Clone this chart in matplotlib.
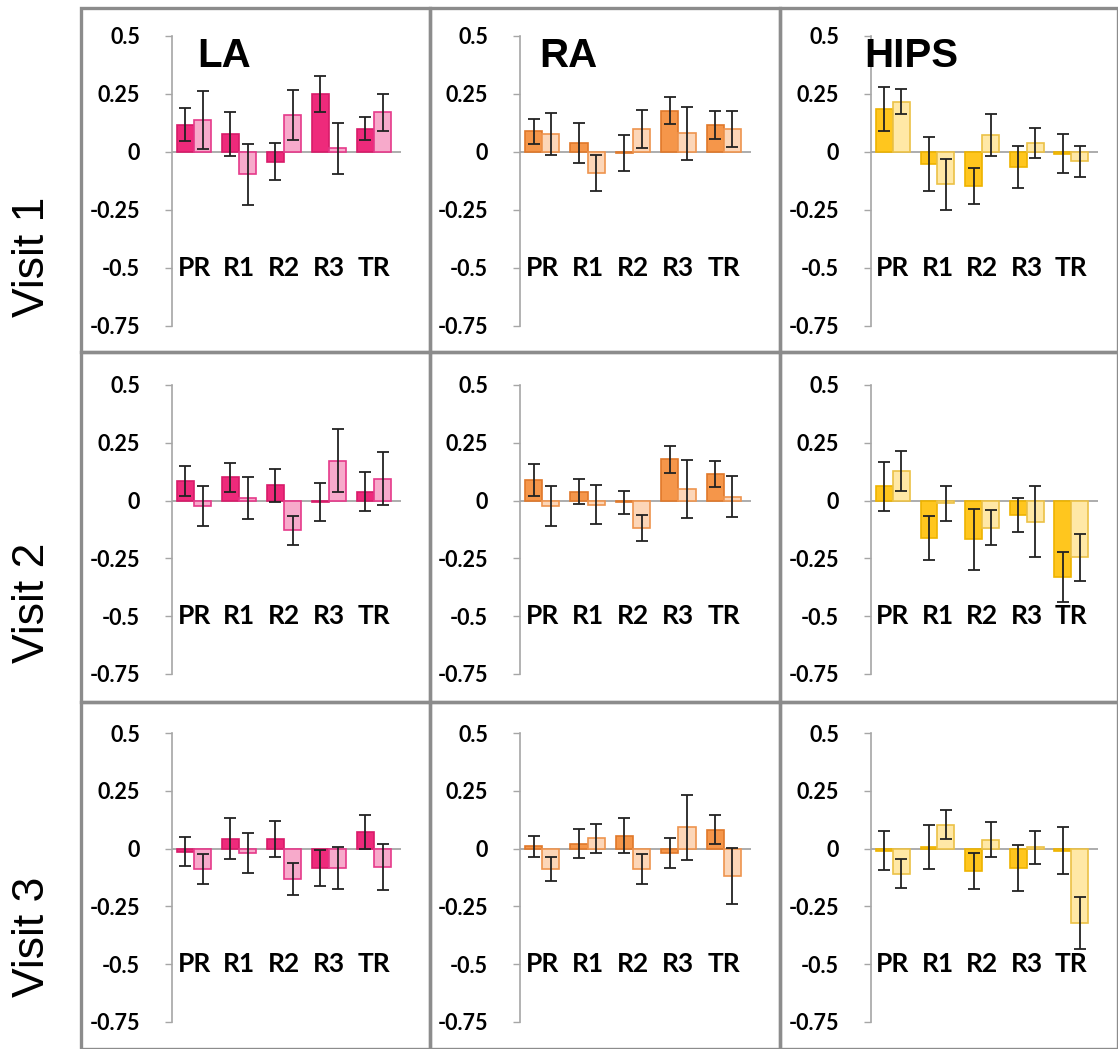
import matplotlib
matplotlib.use("Agg")
import matplotlib.pyplot as plt
from matplotlib.patches import Rectangle
import numpy as np

cats = ['PR', 'R1', 'R2', 'R3', 'TR']
regions = ['LA', 'RA', 'HIPS']
visits = ['Visit 1', 'Visit 2', 'Visit 3']

# rows = visits, columns = categories
la_dark = [[0.118, 0.079, -0.042, 0.250, 0.100],
           [0.084, 0.100, 0.066, -0.005, 0.039],
           [-0.013, 0.043, 0.043, -0.084, 0.071]]
la_dark_err = [[0.070, 0.095, 0.080, 0.078, 0.050],
               [0.066, 0.061, 0.070, 0.083, 0.083],
               [0.063, 0.089, 0.078, 0.077, 0.073]]
la_light = [[0.139, -0.096, 0.161, 0.017, 0.172],
            [-0.025, 0.012, -0.129, 0.173, 0.095],
            [-0.088, -0.019, -0.132, -0.083, -0.078]]
la_light_err = [[0.125, 0.132, 0.108, 0.110, 0.080],
                [0.086, 0.092, 0.061, 0.136, 0.115],
                [0.063, 0.086, 0.069, 0.090, 0.099]]

ra_dark = [[0.089, 0.039, -0.005, 0.178, 0.116],
           [0.090, 0.039, -0.008, 0.178, 0.116],
           [0.010, 0.022, 0.055, -0.020, 0.082]]
ra_dark_err = [[0.053, 0.088, 0.078, 0.059, 0.062],
               [0.069, 0.053, 0.051, 0.060, 0.056],
               [0.046, 0.064, 0.076, 0.064, 0.064]]
ra_light = [[0.078, -0.089, 0.100, 0.080, 0.100],
            [-0.023, -0.017, -0.118, 0.051, 0.017],
            [-0.087, 0.045, -0.087, 0.092, -0.118]]
ra_light_err = [[0.090, 0.078, 0.083, 0.113, 0.078],
                [0.088, 0.083, 0.056, 0.126, 0.088],
                [0.052, 0.062, 0.064, 0.140, 0.120]]

hips_dark = [[0.184, -0.052, -0.146, -0.064, -0.007],
             [0.062, -0.162, -0.168, -0.062, -0.329],
             [-0.009, 0.006, -0.097, -0.085, -0.009]]
hips_dark_err = [[0.095, 0.118, 0.076, 0.091, 0.083],
                 [0.105, 0.097, 0.131, 0.073, 0.108],
                 [0.083, 0.094, 0.078, 0.100, 0.103]]
hips_light = [[0.217, -0.140, 0.072, 0.039, -0.040],
              [0.129, -0.012, -0.117, -0.091, -0.246],
              [-0.108, 0.104, 0.038, 0.006, -0.322]]
hips_light_err = [[0.055, 0.110, 0.091, 0.066, 0.068],
                  [0.086, 0.077, 0.075, 0.155, 0.100],
                  [0.061, 0.062, 0.075, 0.072, 0.114]]

data = {'LA': (la_dark, la_dark_err, la_light, la_light_err),
        'RA': (ra_dark, ra_dark_err, ra_light, ra_light_err),
        'HIPS': (hips_dark, hips_dark_err, hips_light, hips_light_err)}

# fill, edge for dark and light series
colors = {'LA': (('#EE2A7B', '#D81B6A'), ('#F7AACB', '#E5398A')),
          'RA': (('#F5964A', '#E0782A'), ('#FCD6B8', '#EE944E')),
          'HIPS': (('#FFC61E', '#EDB300'), ('#FFE8A6', '#EBC146'))}

W, H = 1118, 1049
fig = plt.figure(figsize=(W / 100, H / 100), dpi=100)

def fbox(x0, y0, x1, y1):
    # pixel box (top-left origin) -> figure fraction rect
    return [x0 / W, 1 - y1 / H, (x1 - x0) / W, (y1 - y0) / H]

axis_x = [(172, 401), (520, 751), (871, 1098)]
axis_y = [(36, 326), (385, 674), (733, 1022)]
box_x = [(81, 430), (430, 780), (780, 1118)]
box_y = [(8, 352), (352, 702), (702, 1049)]
title_x = {'LA': 0.11, 'RA': 0.085, 'HIPS': -0.03}
visit_y = [257, 603, 937]

tick_font = dict(family=['Lato', 'DejaVu Sans'], fontweight='bold', fontsize=15.5)
w = 0.38
x = np.arange(len(cats))

for r in range(3):
    for c, reg in enumerate(regions):
        d, de, l, le = data[reg]
        (dfill, dedge), (lfill, ledge) = colors[reg]
        ax = fig.add_axes(fbox(axis_x[c][0], axis_y[r][0], axis_x[c][1], axis_y[r][1]))
        ax.axhline(0, color='#A6A6A6', lw=1.3, zorder=1)
        ax.bar(x - w / 2, d[r], w, color=dfill, edgecolor=dedge, lw=1.2, zorder=2)
        ax.bar(x + w / 2, l[r], w, color=lfill, edgecolor=ledge, lw=1.2, zorder=2)
        ax.errorbar(x - w / 2, d[r], yerr=de[r], fmt='none', ecolor='#222222',
                    elinewidth=1.3, capsize=4, capthick=1.3, zorder=3)
        ax.errorbar(x + w / 2, l[r], yerr=le[r], fmt='none', ecolor='#222222',
                    elinewidth=1.3, capsize=4, capthick=1.3, zorder=3)
        ax.set_xlim(-0.49, 4.6)
        ax.set_ylim(-0.75, 0.5)
        ax.set_yticks([0.5, 0.25, 0, -0.25, -0.5, -0.75])
        ax.set_yticklabels(['0.5', '0.25', '0', '-0.25', '-0.5', '-0.75'], **tick_font)
        ax.tick_params(axis='y', length=5, width=1, color='#A6A6A6', pad=18)
        ax.set_xticks([])
        for s in ['top', 'right', 'bottom']:
            ax.spines[s].set_visible(False)
        ax.spines['left'].set_color('#A6A6A6')
        ax.spines['left'].set_linewidth(1.2)
        ax.patch.set_alpha(0)
        for i, cat in enumerate(cats):
            ax.text(i, -0.5, cat, ha='center', va='center', family=['Lato', 'DejaVu Sans'],
                    fontweight='bold', fontsize=19, zorder=4)
        if r == 0:
            ax.text(title_x[reg], 0.93, reg, transform=ax.transAxes,
                    ha='left', va='center', family=['Liberation Sans', 'DejaVu Sans'],
                    fontweight='bold', fontsize=29)

for r in range(3):
    for c in range(3):
        x0, x1 = box_x[c]
        y0, y1 = box_y[r]
        fig.add_artist(Rectangle((x0 / W, 1 - y1 / H), (x1 - x0) / W, (y1 - y0) / H,
                                 transform=fig.transFigure, fill=False,
                                 edgecolor='#8C8C8C', lw=2.4))

for r, v in enumerate(visits):
    fig.text(32 / W, 1 - visit_y[r] / H, v, rotation=90,
             ha='center', va='center', family=['Liberation Sans', 'DejaVu Sans'], fontsize=32)

fig.savefig('out.png', dpi=100)
